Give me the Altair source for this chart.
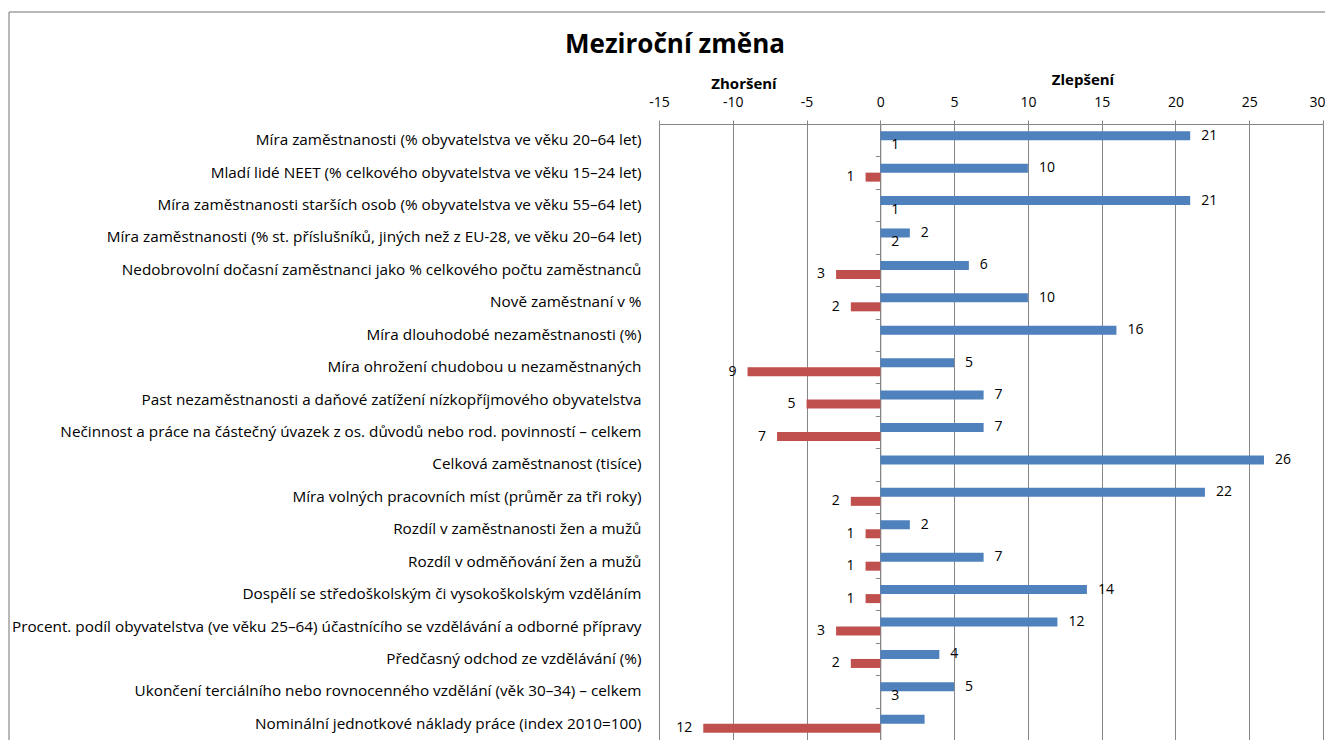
import altair as alt
import pandas as pd

categories = [
    "Míra zaměstnanosti (% obyvatelstva ve věku 20–64 let) ",
    "Mladí lidé NEET (% celkového obyvatelstva ve věku 15–24 let)",
    "Míra zaměstnanosti starších osob (% obyvatelstva ve věku 55–64 let) ",
    "Míra zaměstnanosti (% st. příslušníků, jiných než z EU-28, ve věku 20–64 let)",
    "Nedobrovolní dočasní zaměstnanci jako % celkového počtu zaměstnanců",
    "Nově zaměstnaní v %",
    "Míra dlouhodobé nezaměstnanosti (%)",
    "Míra ohrožení chudobou u nezaměstnaných",
    "Past nezaměstnanosti a daňové zatížení nízkopříjmového obyvatelstva ",
    "Nečinnost a práce na částečný úvazek z os. důvodů nebo rod. povinností – celkem",
    "Celková zaměstnanost (tisíce)",
    "Míra volných pracovních míst (průměr za tři roky)",
    "Rozdíl v zaměstnanosti žen a mužů",
    "Rozdíl v odměňování žen a mužů",
    "Dospělí se středoškolským či vysokoškolským vzděláním",
    "Procent. podíl obyvatelstva (ve věku 25–64) účastnícího se vzdělávání a odborné přípravy",
    "Předčasný odchod ze vzdělávání (%)",
    "Ukončení terciálního nebo rovnocenného vzdělání (věk 30–34) – celkem",
    "Nominální jednotkové náklady práce (index 2010=100)",
]
blue_values = [21, 10, 21, 2, 6, 10, 16, 5, 7, 7, 26, 22, 2, 7, 14, 12, 4, 5, 3]
blue_labels = ["21", "10", "21", "2", "6", "10", "16", "5", "7", "7", "26", "22", "2", "7", "14", "12", "4", "5", ""]
red_values = [0, -1, 0, 0, -3, -2, 0, -9, -5, -7, 0, -2, -1, -1, -1, -3, -2, 0, -12]
red_labels = ["1", "1", "1", "2", "3", "2", "", "9", "5", "7", "", "2", "1", "1", "1", "3", "2", "3", "12"]
series = ["Zlepšení", "Zhoršení"]
x_ticks = [-15, -10, -5, 0, 5, 10, 15, 20, 25, 30]

rows = []
for c, bv, bl, rv, rl in zip(categories, blue_values, blue_labels, red_values, red_labels):
    rows.append({"cat": c, "series": series[0], "value": bv, "label": bl})
    rows.append({"cat": c, "series": series[1], "value": rv, "label": rl})
df = pd.DataFrame(rows)

FONT = "Open Sans"
GRAY = "#868686"

xscale = alt.Scale(domain=[-15, 30], nice=False, zero=False)
yscale = alt.Scale(domain=categories, paddingInner=0, paddingOuter=0)
yoff_scale = alt.Scale(domain=series, paddingInner=0, paddingOuter=0.8)

base = alt.Chart(df)

bars = base.mark_bar().encode(
    x=alt.X("value:Q", scale=xscale,
            axis=alt.Axis(orient="top", values=x_ticks, title=None, grid=True,
                          gridColor=GRAY, domainColor=GRAY, tickColor=GRAY,
                          tickSize=4, labelFont=FONT, labelFontSize=14,
                          labelColor="black", labelPadding=11,
                          labelAlign={"condition": {"test": "datum.value == 30", "value": "right"},
                                      "value": "center"},
                          labelOffset={"condition": {"test": "datum.value == 30", "value": 2},
                                       "value": 0},
                          labelExpr="'' + datum.value")),
    y=alt.Y("cat:N", sort=None, scale=yscale,
            axis=alt.Axis(orient="left", title=None, domain=False, ticks=False,
                          labelFont=FONT, labelFontSize=15.3, labelColor="black",
                          labelLimit=800, labelPadding=18)),
    yOffset=alt.YOffset("series:N", sort=series, scale=yoff_scale),
    color=alt.Color("series:N", scale=alt.Scale(domain=series, range=["#4F81BD", "#C0504D"]),
                    legend=None),
)

pos_text = base.transform_filter("datum.label != '' && datum.value >= 0").mark_text(
    align="left", baseline="middle", dx=11, font=FONT, fontSize=14, color="black"
).encode(
    x=alt.X("value:Q", scale=xscale),
    y=alt.Y("cat:N", sort=None, scale=yscale,
            axis=alt.Axis(orient="left", title=None, labels=False, domain=True,
                          ticks=True, tickBand="extent", tickSize=5,
                          tickColor=GRAY, domainColor=GRAY, offset=-221.3)),
    yOffset=alt.YOffset("series:N", sort=series, scale=yoff_scale),
    text="label:N",
)

neg_text = base.transform_filter("datum.label != '' && datum.value < 0").mark_text(
    align="right", baseline="middle", dx=-11, font=FONT, fontSize=14, color="black"
).encode(
    x=alt.X("value:Q", scale=xscale),
    y=alt.Y("cat:N", sort=None, scale=yscale, axis=None),
    yOffset=alt.YOffset("series:N", sort=series, scale=yoff_scale),
    text="label:N",
)

one = pd.DataFrame({"a": [0]})
frame_top = alt.Chart(one).mark_rule(stroke="#a0a0a0", strokeWidth=1.5).encode(
    x=alt.value(-650), x2=alt.value(700), y=alt.value(-112)
)
frame_left = alt.Chart(one).mark_rule(stroke="#a0a0a0", strokeWidth=1.5).encode(
    x=alt.value(-650), y=alt.value(-112), y2=alt.value(700)
)
title = alt.Chart(one).mark_text(text="Meziroční změna", font=FONT, fontSize=26,
                                  fontWeight="bold", align="center", baseline="middle",
                                  color="black").encode(x=alt.value(16), y=alt.value(-79))
zhor = alt.Chart(one).mark_text(text="Zhoršení", font=FONT, fontSize=15, fontWeight="bold",
                                 align="center", baseline="middle", color="black").encode(
    x=alt.value(85), y=alt.value(-40))
zlep = alt.Chart(one).mark_text(text="Zlepšení", font=FONT, fontSize=15, fontWeight="bold",
                                 align="center", baseline="middle", color="black").encode(
    x=alt.value(424), y=alt.value(-44))

chart = alt.layer(bars, pos_text, neg_text, frame_top, frame_left, title, zhor, zlep).resolve_axis(
    y="independent"
).properties(
    width=664, height=616,
    autosize=alt.AutoSizeParams(type="none"),
    padding={"left": 651, "top": 116, "right": 2, "bottom": 0},
).configure_view(stroke=None)

chart.save("out.html", embed_options={"renderer": "svg", "actions": False})
